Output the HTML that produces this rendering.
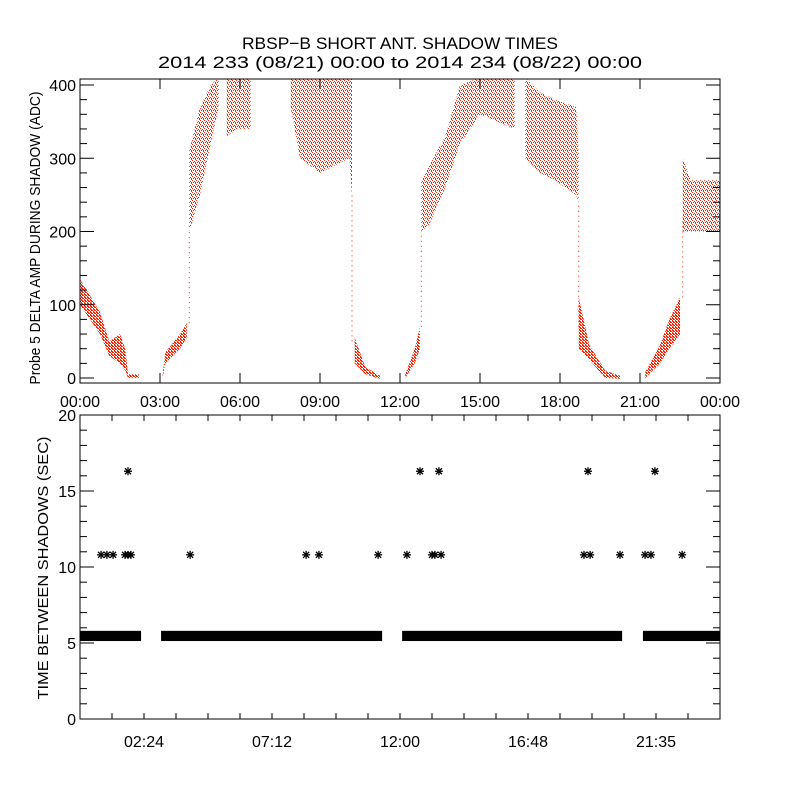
<!DOCTYPE html>
<html><head><meta charset="utf-8"><style>
html,body{margin:0;padding:0;background:#fff;}
svg{display:block;font-family:"Liberation Sans",sans-serif;}
</style></head><body>
<svg id="chart" width="800" height="800" viewBox="0 0 800 800">
<defs>
<pattern id="dots" width="4" height="4" patternUnits="userSpaceOnUse">
<rect x="0" y="0" width="1" height="1" fill="#ff2000"/>
<rect x="2" y="1" width="1" height="1" fill="#ff2000"/>
<rect x="1" y="2" width="1" height="1" fill="#ff2000"/>
<rect x="3" y="3" width="1" height="1" fill="#ff2000"/>
<rect x="3" y="2" width="1" height="1" fill="#ff2000"/>
</pattern>
<pattern id="dense" width="3" height="3" patternUnits="userSpaceOnUse">
<rect x="0" y="0" width="2" height="1" fill="#ff2000"/>
<rect x="1" y="1" width="2" height="1" fill="#ff2000"/>
<rect x="0" y="2" width="1" height="1" fill="#ff2000"/>
</pattern>
<clipPath id="topclip"><rect x="80" y="79" width="640" height="304"/></clipPath>
</defs>
<text x="400" y="49" font-size="17" text-anchor="middle" textLength="316" lengthAdjust="spacingAndGlyphs">RBSP−B SHORT ANT. SHADOW TIMES</text>
<text x="400" y="68" font-size="17" text-anchor="middle" textLength="484" lengthAdjust="spacingAndGlyphs">2014 233 (08/21) 00:00 to 2014 234 (08/22) 00:00</text>
<g id="topPanel"></g>
<g id="botPanel"></g>
</svg>
<script>
// ---- Top panel data (envelopes of scattered probe amplitude points) ----
const segHours = [
 [0,0.75,1.1,1.5,1.7,1.8,2.2],
 [3.1,3.2,3.75,4.0],
 [4.1,4.5,4.9,5.2],
 [5.5,5.9,6.4],
 [7.9,8.25,9.0,10.1,10.2],
 [10.3,10.7,11.25],
 [12.2,12.55,12.75],
 [12.8,13.1,13.7,14.25,15.0,16.3],
 [16.7,17.25,17.8,18.6,18.7],
 [18.7,19.1,19.7,20.25],
 [21.2,21.75,22.1,22.5],
 [22.6,22.9,23.5,24.0]
];
const segLow = [
 [100,60,30,20,10,0,0],
 [0,20,40,55],
 [200,250,320,370],
 [330,340,340],
 [370,300,280,300,250],
 [20,5,0],
 [0,20,40],
 [200,210,260,320,360,340],
 [300,280,270,250,240],
 [40,25,0,0],
 [0,20,40,60],
 [200,200,200,200]
];
const segHigh = [
 [135,90,50,60,40,5,5],
 [5,35,60,75],
 [310,370,400,410],
 [410,410,410],
 [410,410,410,410,410],
 [55,15,3],
 [5,40,70],
 [270,290,330,400,410,410],
 [410,390,380,370,310],
 [110,45,10,3],
 [8,45,80,110],
 [300,270,270,270]
];
const segDense = [1,1,0,0,0,1,1,0,0,1,1,0];
const streakHour = [4.1,10.2,12.8,18.7,22.6];
const streakLo = [75,50,70,70,110];
const streakHi = [200,250,200,240,220];
const topXTicks = ["00:00","03:00","06:00","09:00","12:00","15:00","18:00","21:00","00:00"];
const topYTicks = [0,100,200,300,400];

// ---- Bottom panel data ----
const bandStart = [0,3.04,12.08,21.11];
const bandEnd = [2.29,11.33,20.33,24];
const bandLow = 5.3, bandHigh = 5.8;
const starHours = [0.79,1.01,1.24,1.69,1.8,1.91,1.8,4.13,8.48,8.96,11.18,12.26,12.75,13.2,13.31,13.54,13.46,18.9,19.13,19.05,20.25,21.19,21.41,21.56,22.58];
const starValues = [10.8,10.8,10.8,10.8,10.8,10.8,16.3,10.8,10.8,10.8,10.8,10.8,16.3,10.8,10.8,10.8,16.3,10.8,10.8,16.3,10.8,10.8,10.8,16.3,10.8];
const botXTickLabels = ["02:24","07:12","12:00","16:48","21:35"];
const botYTicks = [0,5,10,15,20];

const NS = "http://www.w3.org/2000/svg";
function mk(tag, attrs, parent){const e=document.createElementNS(NS,tag);for(const k in attrs)e.setAttribute(k,attrs[k]);parent.appendChild(e);return e;}
const X0=80, X1=720;
const xScale = h => X0 + (X1-X0)*h/24;
const yTop = v => 378 - 0.7325*v;
const yBot = v => 719 - 15.2*v;

// ---------- Top panel ----------
const topG = document.getElementById('topPanel');
const topData = mk('g',{'clip-path':'url(#topclip)'},topG);


segHours.forEach((hs,i)=>{
  let pts=[];
  hs.forEach((h,j)=>pts.push(xScale(h).toFixed(1)+','+yTop(segHigh[i][j]).toFixed(1)));
  for(let j=hs.length-1;j>=0;j--){let lo=segLow[i][j],hi=segHigh[i][j];let yl=yTop(lo);if(yl-yTop(hi)<3 && segDense[i])yl=yTop(hi)+3;pts.push(xScale(hs[j]).toFixed(1)+','+yl.toFixed(1));}
  const p=mk('polygon',{points:pts.join(' '),fill:segDense[i]?'url(#dense)':'url(#dots)',stroke:'none'},topData);
  
  
});
streakHour.forEach((h,i)=>{
  const l=mk('line',{x1:xScale(h),x2:xScale(h),y1:yTop(streakLo[i]),y2:yTop(streakHi[i]),stroke:'#ff2200','stroke-width':1,'stroke-dasharray':'1 4'},topData);
  
  
});
const topFrame=mk('rect',{x:80,y:79,width:640,height:304,fill:'none',stroke:'#000','stroke-width':1},topG);


topXTicks.forEach((t,i)=>{
  const x=xScale(i*3);
  mk('line',{x1:x,x2:x,y1:383,y2:373,stroke:'#000'},topG);
  mk('line',{x1:x,x2:x,y1:79,y2:89,stroke:'#000'},topG);
  const tx=mk('text',{x:x,y:407,'font-size':16,'text-anchor':'middle'},topG);
  tx.textContent=t;
  
  
});
for(let v=0;v<=400;v+=20){
  const y=yTop(v), L=(v%100===0)?14:7;
  mk('line',{x1:80,x2:80+L,y1:y,y2:y,stroke:'#000'},topG);
  mk('line',{x1:720,x2:720-L,y1:y,y2:y,stroke:'#000'},topG);
}
topYTicks.forEach(v=>{
  const tx=mk('text',{x:76,y:yTop(v)+6,'font-size':16,'text-anchor':'end'},topG);
  tx.textContent=v;
  
  
});
const tyt=mk('text',{x:0,y:0,'font-size':15,'text-anchor':'middle',textLength:293,lengthAdjust:'spacingAndGlyphs',transform:'translate(40,238) rotate(-90)'},topG);
tyt.textContent='Probe 5 DELTA AMP DURING SHADOW (ADC)';



// ---------- Bottom panel ----------
const botG = document.getElementById('botPanel');
bandStart.forEach((s,i)=>{
  const r=mk('rect',{x:xScale(s),y:yBot(bandHigh),width:xScale(bandEnd[i])-xScale(s),height:(yBot(bandLow)-yBot(bandHigh))+2.6,fill:'#000'},botG);
  
  
});
starHours.forEach((h,i)=>{
  const cx=xScale(h), cy=yBot(starValues[i]);
  const g=mk('g',{stroke:'#000','stroke-width':1.3},botG);
  
  
  mk('line',{x1:cx-4,x2:cx+4,y1:cy,y2:cy},g);
  mk('line',{x1:cx,x2:cx,y1:cy-4,y2:cy+4},g);
  mk('line',{x1:cx-3,x2:cx+3,y1:cy-3,y2:cy+3},g);
  mk('line',{x1:cx-3,x2:cx+3,y1:cy+3,y2:cy-3},g);
});
const botFrame=mk('rect',{x:80,y:415,width:640,height:304,fill:'none',stroke:'#000','stroke-width':1},botG);


for(let k=0;k<=20;k++){
  const x=xScale(k*1.2);
  mk('line',{x1:x,x2:x,y1:719,y2:713,stroke:'#000'},botG);
  mk('line',{x1:x,x2:x,y1:415,y2:421,stroke:'#000'},botG);
}
botXTickLabels.forEach((t,i)=>{
  const tx=mk('text',{x:xScale(2.4+i*4.8),y:747,'font-size':16,'text-anchor':'middle'},botG);
  tx.textContent=t;
  
  
});
for(let v=0;v<=20;v++){
  const y=yBot(v), L=(v%5===0)?14:7;
  mk('line',{x1:80,x2:80+L,y1:y,y2:y,stroke:'#000'},botG);
  mk('line',{x1:720,x2:720-L,y1:y,y2:y,stroke:'#000'},botG);
}
botYTicks.forEach(v=>{
  const tx=mk('text',{x:76,y:yBot(v)+6,'font-size':16,'text-anchor':'end'},botG);
  tx.textContent=v;
  
  
});
const byt=mk('text',{x:0,y:0,'font-size':15,'text-anchor':'middle',textLength:263,lengthAdjust:'spacingAndGlyphs',transform:'translate(48,568) rotate(-90)'},botG);
byt.textContent='TIME BETWEEN SHADOWS (SEC)';


</script>
</body></html>
